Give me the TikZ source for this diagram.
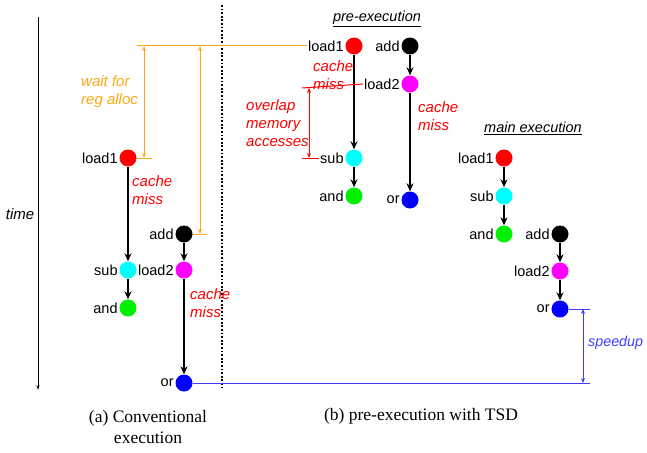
\documentclass[tikz,border=0pt]{standalone}
\usepackage{fontspec}
\setmainfont{Liberation Serif}
\newfontfamily\hvfont{Liberation Sans}
\usetikzlibrary{arrows.meta,positioning}

\definecolor{waitcol}{RGB}{255,168,20}
\definecolor{gaincol}{RGB}{60,60,255}
\definecolor{opred}{RGB}{255,0,0}
\definecolor{opcyan}{RGB}{0,255,255}
\definecolor{opgreen}{RGB}{0,240,0}
\definecolor{opmagenta}{RGB}{255,0,255}
\definecolor{opblue}{RGB}{0,0,255}

\tikzset{
  op/.style={circle,fill=#1,minimum size=17pt,inner sep=0pt},
  oplab/.style={inner sep=1pt,font=\hvfont\fontsize{14.5}{16}\selectfont},
  flow/.style={line width=1.8pt,-{Stealth[length=8pt,width=7pt]}},
  note/.style={font=\hvfont\itshape\fontsize{15}{18}\selectfont,align=left,anchor=west,inner sep=0pt},
  span/.style={line width=1pt,{Stealth[length=5pt,width=4pt]}-{Stealth[length=5pt,width=4pt]}},
  title/.style={font=\hvfont\itshape\fontsize{14.5}{16}\selectfont},
  caption/.style={font=\fontsize{17.5}{21}\selectfont,align=center}
}

\begin{document}
\begin{tikzpicture}[x=1pt,y=-1pt]
\useasboundingbox (0,0) rectangle (647,452);

% time axis and separator
\coordinate (ttop) at (38,17);
\coordinate (tbot) at (38,390);
\draw[line width=0.8pt,-{Stealth[length=5pt,width=3pt]}] (ttop) -- (tbot);
\node[note,anchor=center] (time) at (20,214) {time};
\coordinate (sepa) at (222,5);
\coordinate (sepb) at (222,390);
\draw[line width=1.8pt,dash pattern=on 1.8pt off 1.8pt] (sepa) -- (sepb);

% (a) conventional execution
\node[op=opred] (cl1) at (128,158) {};
\node[op=opcyan] (csub) at (128,270) {};
\node[op=opgreen] (cand) at (128,308) {};
\node[op=black] (cadd) at (184,234) {};
\node[op=opmagenta] (cld2) at (184,270) {};
\node[op=opblue] (cor) at (184,383) {};

% pre-execution
\node[title] (pretitle) at (377,19) {\underline{pre-execution}};
\node[op=opred] (pl1) at (354,46) {};
\node[op=black] (padd) at (410,46) {};
\node[op=opmagenta] (pld2) at (410,84) {};
\node[op=opcyan] (psub) at (354,158) {};
\node[op=opgreen] (pand) at (354,196) {};
\node[op=opblue] (por) at (410,200) {};

% main execution
\node[title] (maintitle) at (533,128) {\underline{main execution}};
\node[op=opred] (ml1) at (504,158) {};
\node[op=opcyan] (msub) at (504,196) {};
\node[op=opgreen] (mand) at (504,234) {};
\node[op=black] (madd) at (560,234) {};
\node[op=opmagenta] (mld2) at (560,271) {};
\node[op=opblue] (mor) at (560,309) {};

\foreach \n/\t in {cl1/load1, csub/sub, cand/and, cadd/add, cld2/load2, cor/or,
                   pl1/load1, padd/add, pld2/load2, psub/sub, pand/and, por/or,
                   ml1/load1, msub/sub, mand/and, madd/add, mld2/load2, mor/or} {
  \node[oplab,left=0.5pt of \n] (\n-t) {\t};
}

\foreach \a/\b in {cl1/csub, csub/cand, cadd/cld2, cld2/cor,
                   pl1/psub, psub/pand, padd/pld2, pld2/por,
                   ml1/msub, msub/mand, madd/mld2, mld2/mor} {
  \draw[flow] (\a) -- (\b);
}

\node[note,text=opred] (cmiss1) at (132,190) {cache\\miss};
\node[note,text=opred] (cmiss2) at (190,303) {cache\\miss};
\node[note,text=opred] (pmiss1) at (313,75) {cache\\miss};
\node[note,text=opred] (pmiss2) at (418,116) {cache\\miss};

% wait for register allocation
\coordinate (w0) at (137,46);
\coordinate (w1) at (152,158);
\coordinate (w2) at (207,234);
\draw[waitcol,line width=1pt] (w0) -- (pl1-t.west);
\draw[waitcol,line width=1pt] (cl1.east) -- (w1);
\draw[waitcol,line width=1pt] (cadd.east) -- (w2);
\draw[span,waitcol] (144,46) -- (144,158);
\draw[span,waitcol] (200,46) -- (200,234);
\node[note,text=waitcol] (wait) at (81,92) {wait for\\reg alloc};

% overlap of memory accesses
\coordinate (o0) at (302,88);
\coordinate (o1) at (302,158);
\draw[opred,line width=1pt] (o0) -- (pld2-t.west);
\draw[opred,line width=1pt] (o1) -- (psub-t.west);
\draw[span,opred] (309,88) -- (309,158);
\node[note,text=opred] (overlap) at (246,123) {overlap\\memory\\accesses};

% speedup
\coordinate (s0) at (590,383);
\coordinate (s1) at (590,309);
\draw[gaincol,line width=1pt] (cor.east) -- (s0);
\draw[gaincol,line width=1pt] (mor.east) -- (s1);
\draw[span,gaincol] (583,309) -- (583,383);
\node[note,text=gaincol,font=\hvfont\itshape\fontsize{14.3}{18}\selectfont] (speedup) at (588,343) {speedup};

% captions
\node[caption] (capa) at (148,427) {(a) Conventional\\execution};
\node[caption] (capb) at (421,416) {(b) pre-execution with TSD};
\end{tikzpicture}
\end{document}
